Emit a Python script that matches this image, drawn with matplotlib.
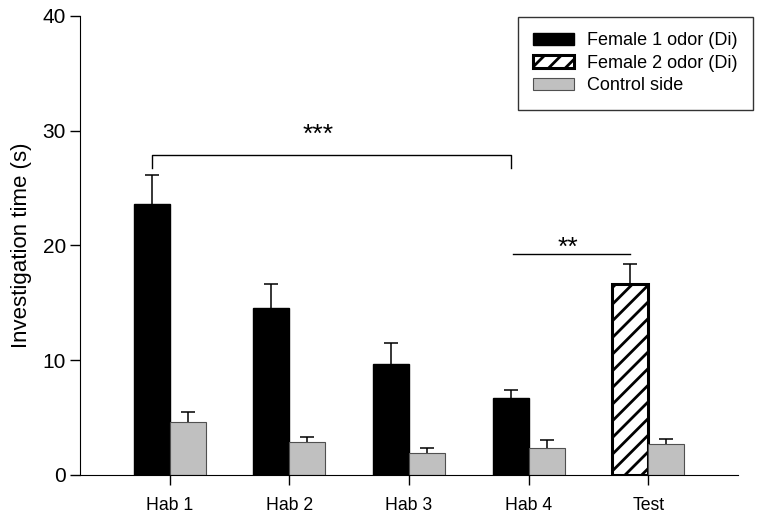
import numpy as np
import matplotlib
matplotlib.use("Agg")
import matplotlib.pyplot as plt

plt.rcParams['font.family'] = ['Liberation Sans', 'DejaVu Sans']
plt.rcParams['hatch.linewidth'] = 2.0

# ---- data ----
groups = ["Hab 1", "Hab 2", "Hab 3", "Hab 4", "Test"]
odor = [23.6, 14.55, 9.67, 6.68, 16.6]
odor_err = [2.5, 2.05, 1.8, 0.75, 1.8]
control = [4.65, 2.85, 1.89, 2.38, 2.67]
control_err = [0.8, 0.5, 0.45, 0.65, 0.47]

x = np.arange(len(groups))
w = 0.30

fig = plt.figure(figsize=(7.62, 5.15), dpi=100)
ax = fig.add_axes([0.105, 0.0777, 0.8635, 0.8913])

# black bars for female 1 (habituation), hatched bar for female 2 (test)
f1 = ax.bar(x[:4] - w / 2, odor[:4], w, color="black", edgecolor="black",
            linewidth=1, label="Female 1 odor (Di)")
f2 = ax.bar(x[4:] - w / 2, odor[4:], w, color="white", edgecolor="black",
            linewidth=2.2, hatch="//", label="Female 2 odor (Di)")
ctl = ax.bar(x + w / 2, control, w, color="#c0c0c0", edgecolor="#505050",
             linewidth=0.8, label="Control side")

# upward error bars only (hide the lower caps)
for xs, ys, es in [(x - w / 2, odor, odor_err), (x + w / 2, control, control_err)]:
    eb = ax.errorbar(xs, ys, yerr=[np.zeros(5), es], fmt="none",
                     ecolor="black", elinewidth=1.1, capsize=4.7, capthick=1.1)
    eb[1][0].set_visible(False)

# significance markers
ax.plot([-0.15, -0.15, 2.85, 2.85], [26.75, 27.9, 27.9, 26.75],
        color="black", linewidth=1)
ax.text(1.24, 29.6, "***", ha="center", va="center", fontsize=19)
ax.plot([2.87, 3.85], [19.26, 19.26], color="black", linewidth=1)
ax.text(3.33, 19.8, "**", ha="center", va="center", fontsize=19)

ax.set_xlim(-0.75, 4.75)
ax.set_ylim(0, 40)
ax.set_yticks([0, 10, 20, 30, 40])
ax.set_xticks(x)
ax.set_xticklabels(groups, fontsize=12.7)
ax.tick_params(axis="y", labelsize=15, direction="out", length=7, width=1, pad=3)
ax.tick_params(axis="x", direction="out", length=7, width=1, pad=9)
ax.set_ylabel("Investigation time (s)", fontsize=16, labelpad=8)
ax.spines["top"].set_visible(False)
ax.spines["right"].set_visible(False)

leg = ax.legend(handles=[f1, f2, ctl], loc="upper right",
                bbox_to_anchor=(0.988, 0.967), bbox_transform=fig.transFigure,
                fontsize=13, frameon=True, fancybox=False, edgecolor="black",
                handlelength=2.28, handleheight=0.67, handletextpad=0.7,
                labelspacing=0.3, borderpad=0.85, borderaxespad=0)
leg.get_frame().set_linewidth(1)

fig.savefig("out.png", dpi=100)
